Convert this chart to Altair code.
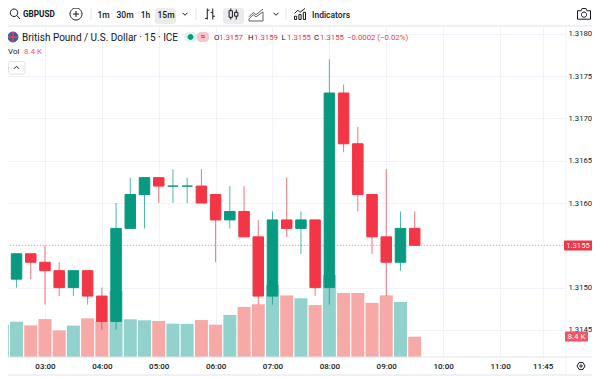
import altair as alt
import pandas as pd

times = ["02:15","02:30","02:45","03:00","03:15","03:30","03:45","04:00","04:15","04:30",
         "04:45","05:00","05:15","05:30","05:45","06:00","06:15","06:30","06:45","07:00",
         "07:15","07:30","07:45","08:00","08:15","08:30","08:45","09:00","09:15","09:30"]
opens  = [1.3151,1.3151,1.3154,1.3153,1.3152,1.3150,1.3152,1.3149,1.3146,1.3157,
          1.3161,1.3163,1.3162,1.3162,1.3162,1.3161,1.3158,1.3159,1.3156,1.3149,
          1.3158,1.3157,1.3158,1.3150,1.3173,1.3167,1.3161,1.3156,1.3153,1.3157]
highs  = [1.3152,1.3154,1.3154,1.3155,1.3153,1.3152,1.3152,1.3150,1.3160,1.3163,
          1.3163,1.3163,1.3164,1.3163,1.3164,1.3161,1.3162,1.3162,1.3158,1.3159,
          1.3163,1.3159,1.3158,1.3177,1.3174,1.3169,1.3161,1.3164,1.3159,1.3159]
lows   = [1.3149,1.3150,1.3151,1.3148,1.3149,1.3149,1.3148,1.3145,1.3145,1.3157,
          1.3157,1.3160,1.3160,1.3160,1.3160,1.3153,1.3157,1.3156,1.3148,1.3148,
          1.3156,1.3154,1.3149,1.3148,1.3166,1.3159,1.3154,1.3149,1.3152,1.3155]
closes = [1.3151,1.3154,1.3153,1.3152,1.3150,1.3152,1.3149,1.3146,1.3157,1.3161,
          1.3163,1.3162,1.3162,1.3162,1.3160,1.3158,1.3159,1.3156,1.3149,1.3158,
          1.3157,1.3158,1.3150,1.3173,1.3167,1.3161,1.3156,1.3153,1.3157,1.3155]
volumes = [13.4,14.6,13.1,15.7,11.0,13.0,16.0,15.0,27.3,15.6,
           15.2,14.9,13.8,13.7,15.3,13.4,17.4,20.7,21.8,29.7,
           25.5,24.3,21.5,33.9,26.5,26.5,22.4,25.5,22.8,8.4]

price_ticks = [1.3145,1.3150,1.3155,1.3160,1.3165,1.3170,1.3175,1.3180]
time_ticks = ["03:00","04:00","05:00","06:00","07:00","08:00","09:00","10:00","11:00","11:45"]
last_price = 1.3155

GREEN, RED = "#089981", "#F23645"
VGREEN, VRED = "#92D2CC", "#F7A9A7"
INK = "#131722"
GRID = "#F0F3FA"
FONT = "Roboto"


def minutes(t):
    h, m = t.split(":")
    return int(h) * 60 + int(m)


df = pd.DataFrame({"t": [minutes(t) for t in times], "o": opens, "h": highs, "l": lows,
                   "c": closes, "v": volumes})
df["candle"] = [GREEN if c >= o else RED for o, c in zip(opens, closes)]
df["volc"] = [VGREEN if c >= o else VRED for o, c in zip(opens, closes)]

OX, OY = 8, 27  # page position of the plot area's left and top
W, H = 558, 330
one = alt.InlineData(values=[{"a": 1}])

xs = alt.Scale(domain=[141, 729.6], nice=False, zero=False, padding=0)
ys = alt.Scale(domain=[1.31418, 1.31808], nice=False, zero=False, padding=0)

x_axis = alt.Axis(
    values=[minutes(t) for t in time_ticks], grid=True, gridColor=GRID, domain=False, ticks=False,
    title=None, labelFont=FONT, labelFontSize=8, labelColor=INK, labelPadding=5, labelFlush=False,
    labelOverlap=False, labelFontWeight=500,
    labelExpr="(floor(datum.value/60)<10?'0':'')+floor(datum.value/60)+':'+(datum.value%60<10?'0':'')+(datum.value%60)")
x = alt.X("t:Q", scale=xs, axis=x_axis)

vol = alt.Chart(df).mark_bar(size=13, clip=True, orient="vertical").encode(
    x=x,
    y=alt.Y("v:Q", scale=alt.Scale(domain=[0, 136.6], nice=False, padding=0), axis=None),
    color=alt.Color("volc:N", scale=None),
)

y_axis = alt.Axis(values=price_ticks, orient="right", grid=True, gridColor=GRID, domain=False,
                  ticks=False, title=None, labelFont=FONT, labelFontSize=7.7, labelColor=INK, labelPadding=2,
                  labelAlign="left", labelOverlap=False,
                  labelExpr="abs(datum.value-1.3155)<0.00001?'':format(datum.value,'.4f')")
cdir = alt.Color("candle:N", scale=None)
wick = alt.Chart(df).mark_rule(strokeWidth=1, clip=True, opacity=0.7).encode(
    x=x, y=alt.Y("l:Q", scale=ys, axis=y_axis), y2="h:Q", color=cdir)
body = alt.Chart(df).mark_bar(size=10.5, strokeWidth=1, clip=True, orient="vertical").encode(
    x=x, y=alt.Y("o:Q", scale=ys, axis=y_axis), y2="c:Q", color=cdir,
    stroke=alt.Stroke("candle:N", scale=None))
pline = alt.Chart(pd.DataFrame({"p": [last_price]})).mark_rule(
    color=RED, opacity=0.45, strokeDash=[1, 2], strokeWidth=1).encode(
    y=alt.Y("p:Q", scale=ys, axis=y_axis))
price = alt.layer(wick, body, pline)


def text(s, px, py, size=10, color=INK, align="left", weight=400):
    return alt.Chart(one).mark_text(text=s, font=FONT, fontSize=size, color=color, align=align,
                                    baseline="middle", fontWeight=weight).encode(
        x=alt.value(px - OX), y=alt.value(py - OY))


def rect(x0, y0, x1, y1, fill, radius=0, stroke=None):
    kw = {"stroke": stroke, "strokeWidth": 1} if stroke else {}
    return alt.Chart(one).mark_rect(color=fill, cornerRadius=radius, **kw).encode(
        x=alt.value(x0 - OX), x2=alt.value(x1 - OX), y=alt.value(y0 - OY), y2=alt.value(y1 - OY))


def rule(x0, y0, x1, y1, color="#E0E3EB"):
    return alt.Chart(one).mark_rule(color=color, strokeWidth=1).encode(
        x=alt.value(x0 - OX), x2=alt.value(x1 - OX), y=alt.value(y0 - OY), y2=alt.value(y1 - OY))


def icon(path, px, py, size, color=INK, fill=None, width=1):
    return alt.Chart(one).mark_point(shape=path, size=size * size, stroke=color, fill=fill or "transparent",
                                     filled=bool(fill), strokeWidth=width, opacity=1).encode(
        x=alt.value(px - OX), y=alt.value(py - OY))


CHEV = "M-1,-0.5L0,0.5L1,-0.5"
CHEV_UP = "M-1,0.5L0,-0.5L1,0.5"
CIRCLE = "M-1,0A1,1 0 1,1 1,0A1,1 0 1,1 -1,0Z"
PLUS = "M-0.5,0L0.5,0M0,-0.5L0,0.5"+"M-1,0A1,1 0 1,1 1,0A1,1 0 1,1 -1,0Z"
SEARCH = "M-0.2,-1A0.75,0.75 0 1,1 -0.2,0.5A0.75,0.75 0 1,1 -0.2,-1ZM0.35,0.3L1,1"
BARS = "M-0.5,-1L-0.5,1M-0.5,-0.7L-0.1,-0.7M-0.9,0.8L-0.5,0.8M0.5,-1L0.5,1M0.1,-0.3L0.5,-0.3M0.5,0.4L0.9,0.4"
CANDLES = ("M-0.5,-1L-0.5,-0.6M-0.8,-0.6L-0.2,-0.6L-0.2,0.6L-0.8,0.6ZM-0.5,0.6L-0.5,1"
           "M0.5,-0.8L0.5,-0.3M0.2,-0.3L0.8,-0.3L0.8,0.4L0.2,0.4ZM0.5,0.4L0.5,1")
AREA = "M-1,0.4L-0.4,-0.2L0,0.1L1,-0.7M-1,1L-1,0.7L-0.4,0.1L0,0.4L1,-0.3L1,1Z"
INDIC = "M-1,-0.1L-0.4,-0.7L0,-0.3L0.9,-1M-1,1L-1,0.4L-0.6,0.4L-0.6,1ZM-0.2,1L-0.2,0.1L0.2,0.1L0.2,1ZM0.6,1L0.6,-0.3L1,-0.3L1,1Z"
CAMERA = "M-1,-0.5L-0.45,-0.5L-0.3,-0.85L0.3,-0.85L0.45,-0.5L1,-0.5L1,0.8L-1,0.8ZM0.4,0.1A0.4,0.4 0 1,1 -0.4,0.1A0.4,0.4 0 1,1 0.4,0.1Z"
GEAR = "M-1,0L-0.5,-0.85L0.5,-0.85L1,0L0.5,0.85L-0.5,0.85ZM0.3,0A0.3,0.3 0 1,1 -0.3,0A0.3,0.3 0 1,1 0.3,0Z"

PINK = "#F7525F"
chrome = [
    rule(8, 26, 592, 26), rule(8, 357, 592, 357, "#E0E3EB"), rule(8, 375, 592, 375),
    rule(91, 8, 91, 20), rule(196, 8, 196, 20), rule(286, 8, 286, 20), rule(566, 27, 566, 375, "#F0F3FA"),
    rect(155, 8, 176, 24, "#EBEBEB", 3), rect(223, 8, 244, 24, "#EBEBEB", 3),
    icon(SEARCH, 15, 14, 10), text("GBPUSD", 23, 14.5, 8.2, weight=700),
    icon(PLUS, 76, 14, 12),
    text("1m", 103.5, 14.5, 8.5, align="center", weight=500), text("30m", 125, 14.5, 8.5, align="center", weight=500),
    text("1h", 145.5, 14.5, 8.5, align="center", weight=500), text("15m", 166, 14.5, 8.5, align="center", weight=500),
    icon(CHEV, 185, 14, 5), icon(BARS, 210, 14, 11), icon(CANDLES, 233.5, 14, 11),
    icon(AREA, 256, 14, 14, "#5d606b"), icon(CHEV, 276, 14, 5), icon(INDIC, 300, 14, 11),
    text("Indicators", 312, 14.5, 8.5, weight=500), icon(CAMERA, 584, 14, 13),
    icon(CIRCLE, 13, 37, 10, "#3F5BA9", "#3F5BA9"), icon("M-1,0L1,0M0,-1L0,1", 13, 37, 10, "#E8414F", width=1.5),
    text("British Pound / U.S. Dollar · 15 · ICE", 22, 37.5, 10, weight=400),
    rect(184, 32, 198, 42, "#DDF3EF", 5), rect(197, 32, 209, 42, "#F9C5CB", 4),
    icon(CIRCLE, 190.5, 37, 5, GREEN, GREEN), text("≈", 203, 37, 8, "#E0245E", "center", 700),
    text("O", 214, 37.5, 7.8), text("1.3157", 219, 37.5, 7.8, RED),
    text("H", 248, 37.5, 7.8), text("1.3159", 254, 37.5, 7.8, RED),
    text("L", 281.5, 37.5, 7.8), text("1.3155", 287, 37.5, 7.8, RED),
    text("C", 314, 37.5, 7.8), text("1.3155", 320, 37.5, 7.8, RED),
    text("−0.0002 (−0.02%)", 347, 37.5, 7.8, RED),
    text("Vol", 8, 52, 8), text("8.4 K", 24, 52, 8, PINK),
    rect(8.5, 61.5, 25, 74, "#FFFFFF", 2, "#E0E3EB"), icon(CHEV_UP, 16.5, 67.5, 5),
    rect(564, 240.5, 594, 250.5, RED, 1), text("1.3155", 578, 246, 7.7, "#FFFFFF", "center"),
    rect(565, 331.5, 588, 341.5, PINK, 1), text("8.4 K", 576.5, 337, 8, "#FFFFFF", "center"),
    icon(GEAR, 581, 366, 8),
]

chart = alt.layer(vol, price, *chrome).resolve_scale(y="independent").properties(
    width=W, height=H, autosize="none", padding={"left": 0, "top": 19, "right": 26, "bottom": 20},
    background="white",
).configure_view(stroke=None)

chart.save("out.html", embed_options={"renderer": "svg", "actions": False})
